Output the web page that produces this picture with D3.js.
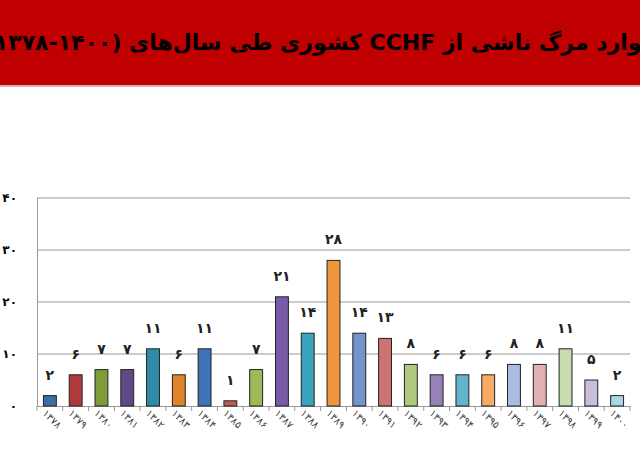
<!DOCTYPE html>
<html><head><meta charset="utf-8">
<script src="https://cdn.jsdelivr.net/npm/d3@7"></script>
<style>body{margin:0;background:#fff}svg{display:block}</style>
</head><body><svg id="c" width="640" height="457"></svg>
<script>
const years = ["۱۳۷۸","۱۳۷۹","۱۳۸۰","۱۳۸۱","۱۳۸۲","۱۳۸۳","۱۳۸۴","۱۳۸۵","۱۳۸۶","۱۳۸۷","۱۳۸۸","۱۳۸۹","۱۳۹۰","۱۳۹۱","۱۳۹۲","۱۳۹۳","۱۳۹۴","۱۳۹۵","۱۳۹۶","۱۳۹۷","۱۳۹۸","۱۳۹۹","۱۴۰۰"]
const deaths = [2,6,7,7,11,6,11,1,7,21,14,28,14,13,8,6,6,6,8,8,11,5,2]
const colors = ["#3c6ea8","#b03a3a","#7e9c3a","#5f4a85","#2f8ca8","#e0832a","#3f73b8","#c05a5a","#9cbb59","#7a5aa8","#38a3bd","#f0963c","#7494cc","#cd7473","#afc97d","#9583b8","#63b5cc","#f7a966","#a8bde0","#e3b1b2","#c9dbb0","#c8bedb","#abd6e3"]
const yTicks = [0,10,20,30,40]
const fa = n => String(n).replace(/\d/g, d => "۰۱۲۳۴۵۶۷۸۹"[d])

const svg = d3.select("#c")
svg.append("rect").attr("width",640).attr("height",85).attr("fill","#c00000")
svg.append("line").attr("x1",0).attr("x2",640).attr("y1",86).attr("y2",86).attr("stroke","#d9b0b0").attr("stroke-width",2)
svg.append("text").attr("x",320).attr("y",50).attr("text-anchor","middle").attr("direction","rtl")
	.attr("font-family","'DejaVu Sans', sans-serif").attr("font-weight","bold").attr("font-size",22).attr("fill","#000")
	.text("موارد مرگ ناشی از CCHF کشوری طی سال‌های (۱۴۰۰-۱۳۷۸)")

const pLeft = 37, pRight = 630, pTop = 198, pBottom = 406
const x = d3.scaleBand().domain(years).range([pLeft, pRight]).paddingInner(0.5).paddingOuter(0.25)
const y = d3.scaleLinear().domain([0, 40]).range([pBottom, pTop])

/* gridlines */
svg.append("g").selectAll("line").data(yTicks.slice(1)).enter().append("line")
	.attr("x1", pLeft).attr("x2", pRight).attr("y1", d => y(d)).attr("y2", d => y(d))
	.attr("stroke","#999").attr("stroke-width",1)

svg.append("g").attr("transform","translate(" + pLeft + ",0)")
	.call(d3.axisLeft(y).tickValues(yTicks).tickSize(0).tickPadding(20).tickFormat(fa))
	.call(g => g.select(".domain").attr("stroke","#999"))
	.selectAll("text").attr("font-size",12).attr("font-weight","bold").attr("font-family","'DejaVu Sans'")

const xa = svg.append("g").attr("transform","translate(0," + pBottom + ")")
	.call(d3.axisBottom(x).tickSize(0).tickPadding(8))
xa.select(".domain").attr("stroke","#999")
xa.selectAll("text").attr("font-size",10).attr("font-family","'DejaVu Sans'").attr("fill","#444")
	.attr("text-anchor","start").attr("transform","rotate(45) translate(0,-4)")
/* small tick marks between categories */
xa.selectAll(".sep").data(years.concat([""])).enter().append("line")
	.attr("x1", (d,i) => pLeft + i*(pRight-pLeft)/years.length).attr("x2", (d,i) => pLeft + i*(pRight-pLeft)/years.length)
	.attr("y1",0).attr("y2",5).attr("stroke","#999")

svg.append("g").selectAll("rect").data(deaths).enter().append("rect")
	.attr("x", (d,i) => x(years[i])).attr("width", x.bandwidth())
	.attr("y", d => y(d)).attr("height", d => pBottom - y(d))
	.attr("fill", (d,i) => colors[i]).attr("stroke","#222").attr("stroke-width",1)

svg.append("g").selectAll("text").data(deaths).enter().append("text")
	.attr("x", (d,i) => x(years[i]) + x.bandwidth()/2).attr("y", d => y(d) - 16)
	.attr("text-anchor","middle").attr("font-size",14).attr("font-weight","bold")
	.attr("font-family","'DejaVu Sans'").attr("fill","#222").text(fa)
</script></body></html>
